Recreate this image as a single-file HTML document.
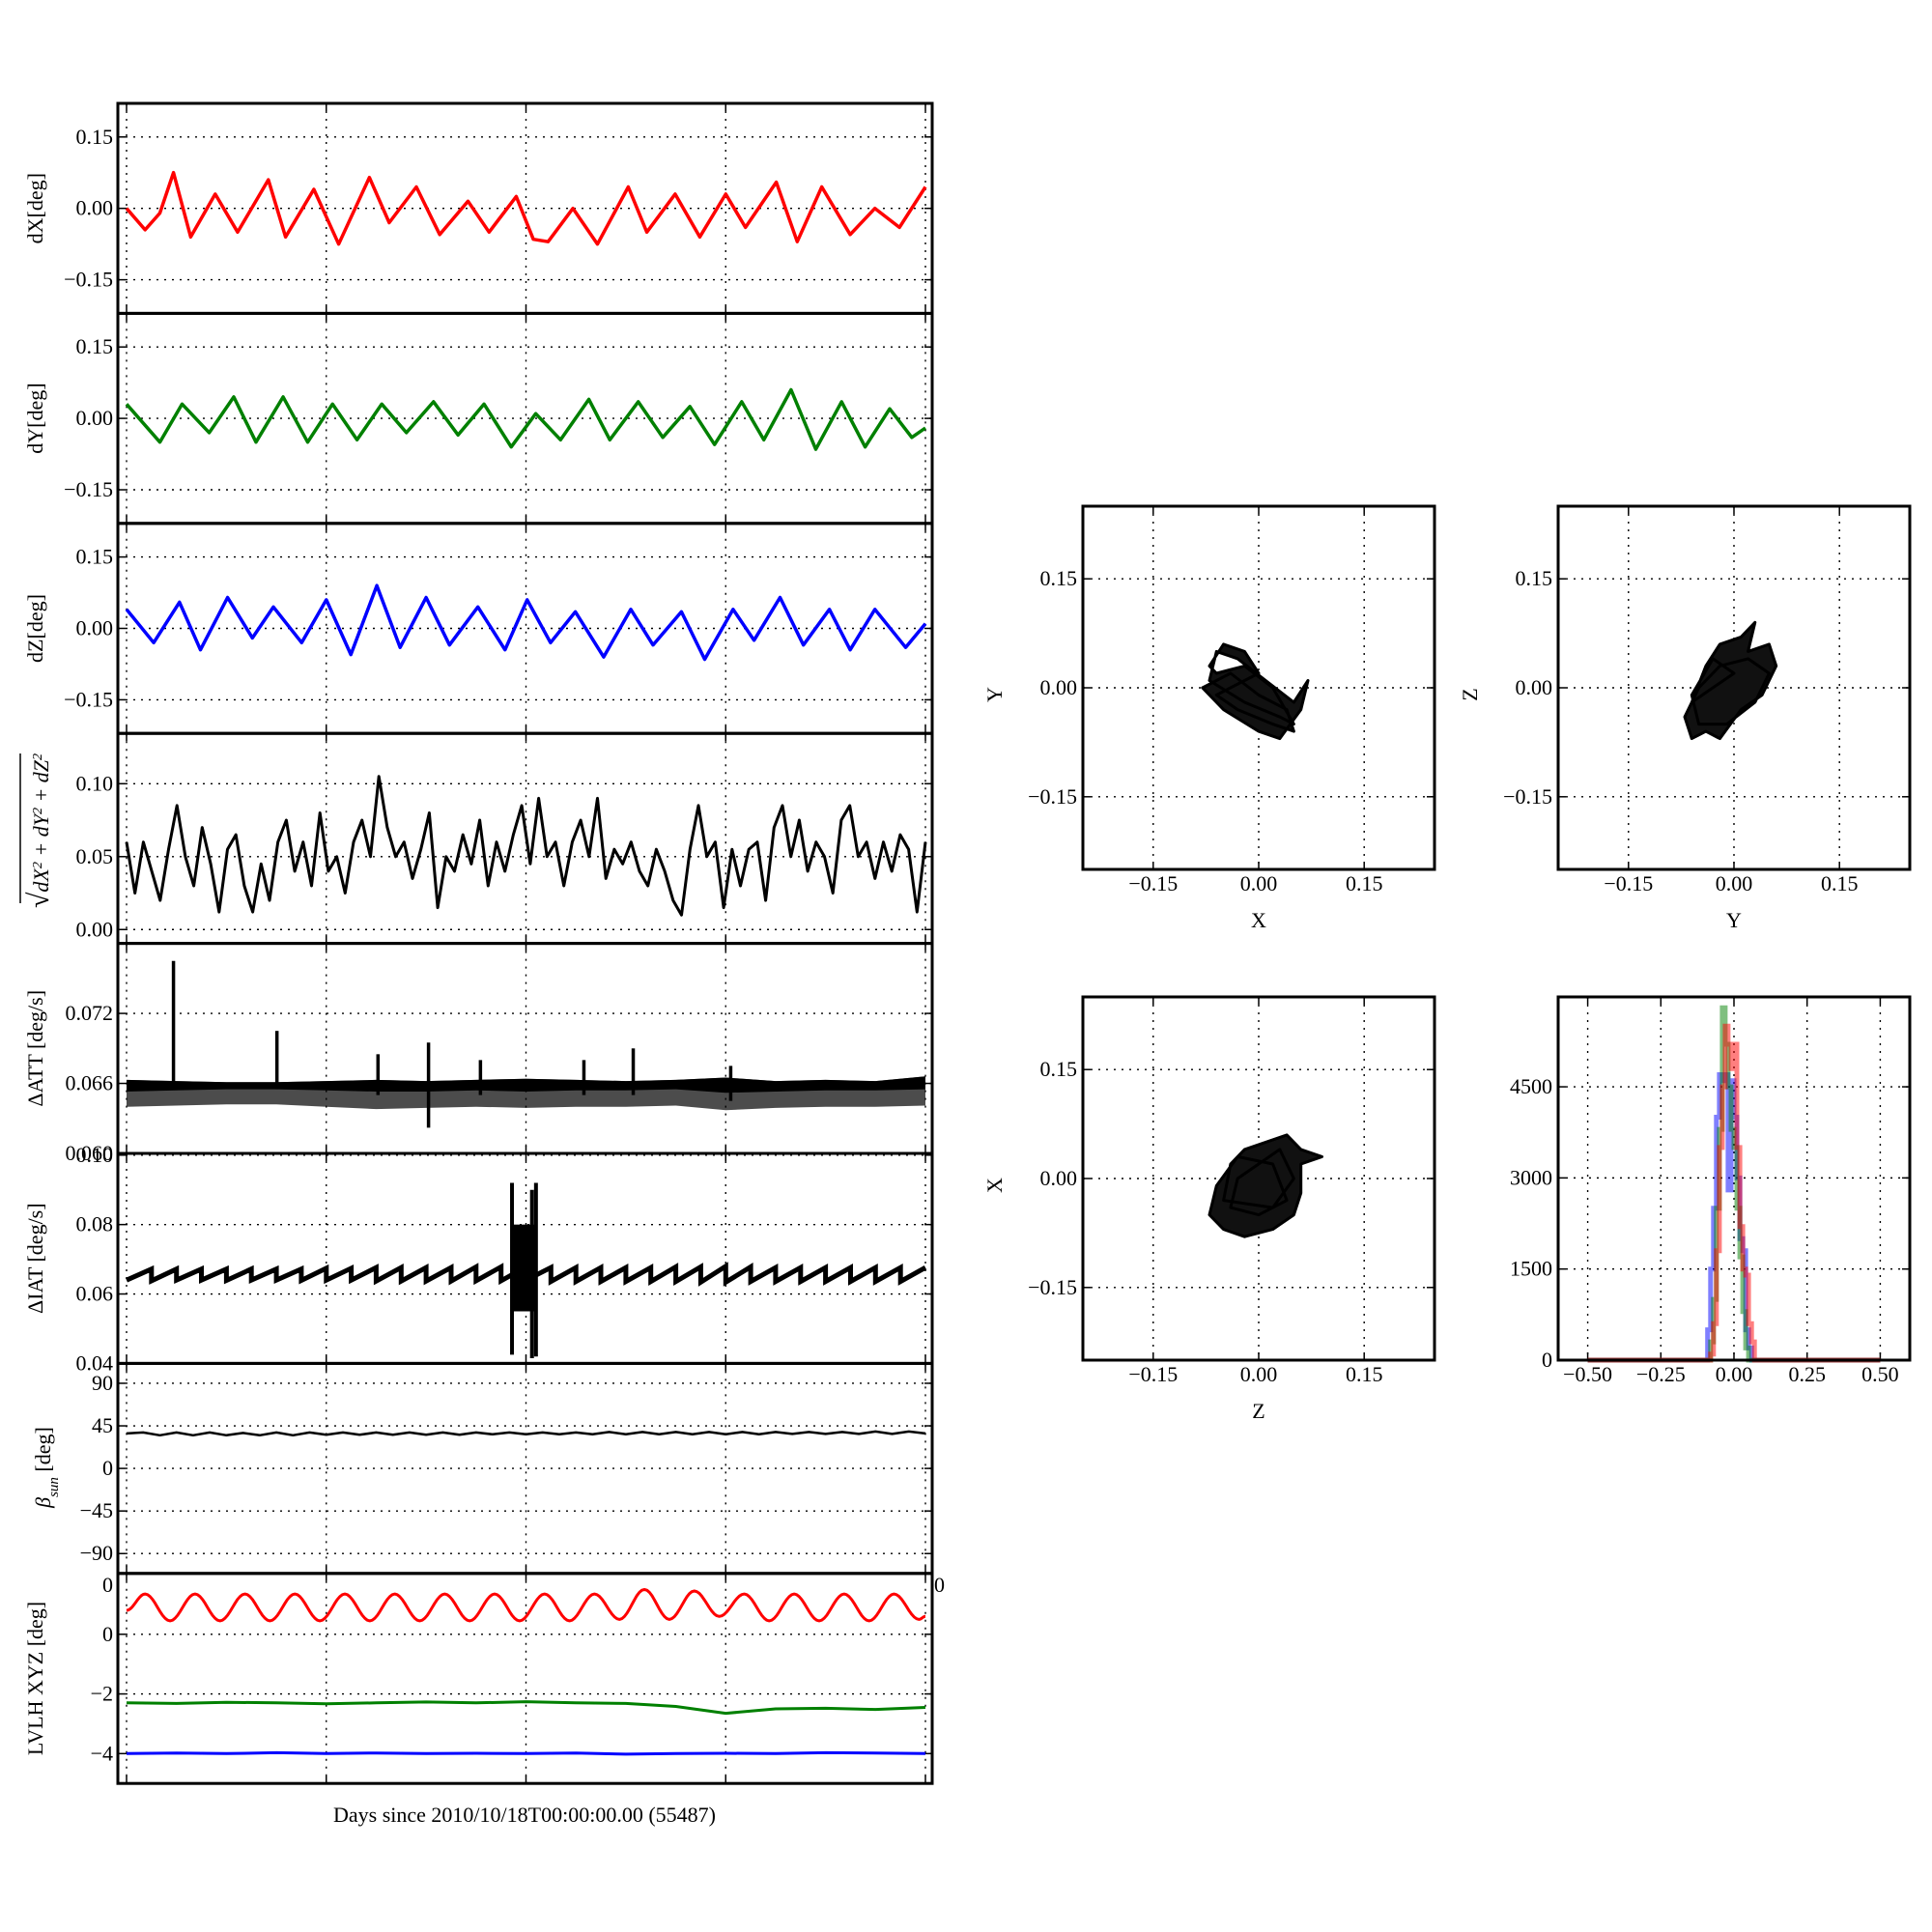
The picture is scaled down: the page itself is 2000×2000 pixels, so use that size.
<!DOCTYPE html>
<html><head><meta charset="utf-8"><style>
html,body{margin:0;padding:0;background:#fff}
svg{display:block}
svg text{font-family:"Liberation Serif","DejaVu Serif",serif;fill:#000}
</style></head><body>
<svg id="fig" width="2000" height="2000" viewBox="0 0 2000 2000" font-family="'Liberation Serif', 'DejaVu Serif', serif" xmlns="http://www.w3.org/2000/svg"></svg>
<script>
// ---- data (days since start) ----
const dxT=[0,.093,.167,.235,.321,.444,.556,.710,.796,.938,1.062,1.216,1.315,1.451,1.568,1.710,1.815,1.951,2.037,2.111,2.235,2.358,2.512,2.605,2.747,2.870,3.0,3.099,3.253,3.358,3.481,3.623,3.747,3.870,4.0];
const dxV=[0,-0.045,-0.01,0.075,-0.06,0.03,-0.05,0.06,-0.06,0.04,-0.075,0.065,-0.03,0.045,-0.055,0.015,-0.05,0.025,-0.065,-0.07,0.0,-0.075,0.045,-0.05,0.03,-0.06,0.03,-0.04,0.055,-0.07,0.045,-0.055,0.0,-0.04,0.045];
const dyT=[0,.167,.278,.414,.537,.648,.784,.907,1.031,1.154,1.278,1.401,1.537,1.660,1.790,1.926,2.049,2.173,2.315,2.420,2.562,2.685,2.821,2.944,3.080,3.191,3.327,3.451,3.580,3.698,3.821,3.932,4.0];
const dyV=[0.03,-0.05,0.03,-0.03,0.045,-0.05,0.045,-0.05,0.03,-0.045,0.03,-0.03,0.035,-0.035,0.03,-0.06,0.01,-0.045,0.04,-0.045,0.035,-0.04,0.025,-0.055,0.035,-0.045,0.06,-0.065,0.035,-0.06,0.02,-0.04,-0.02];
const dzT=[0,.136,.265,.370,.506,.630,.735,.877,1.0,1.123,1.253,1.370,1.5,1.617,1.759,1.895,2.006,2.123,2.247,2.389,2.525,2.636,2.778,2.895,3.037,3.142,3.272,3.389,3.519,3.623,3.747,3.901,4.0];
const dzV=[0.04,-0.03,0.055,-0.045,0.065,-0.02,0.045,-0.03,0.06,-0.055,0.09,-0.04,0.065,-0.035,0.045,-0.045,0.06,-0.03,0.035,-0.06,0.04,-0.035,0.035,-0.065,0.04,-0.025,0.065,-0.035,0.04,-0.045,0.04,-0.04,0.01];
const normV=[0.06,0.025,0.06,0.04,0.02,0.055,0.085,0.05,0.03,0.07,0.045,0.012,0.055,0.065,0.03,0.012,0.045,0.02,0.06,0.075,0.04,0.06,0.03,0.08,0.04,0.05,0.025,0.06,0.075,0.05,0.105,0.07,0.05,0.06,0.035,0.055,0.08,0.015,0.05,0.04,0.065,0.045,0.075,0.03,0.06,0.04,0.065,0.085,0.045,0.09,0.05,0.06,0.03,0.06,0.075,0.05,0.09,0.035,0.055,0.045,0.06,0.04,0.03,0.055,0.04,0.02,0.01,0.055,0.085,0.05,0.06,0.015,0.055,0.03,0.055,0.06,0.02,0.07,0.085,0.05,0.075,0.04,0.06,0.05,0.025,0.075,0.085,0.05,0.06,0.035,0.06,0.04,0.065,0.055,0.012,0.06];
const attUp=[0.0663,0.0662,0.0661,0.0661,0.0662,0.0663,0.0662,0.0663,0.0664,0.0663,0.0662,0.0663,0.0665,0.0662,0.0663,0.0662,0.0666];
const attMid=[0.0653,0.0654,0.0655,0.0655,0.0654,0.0653,0.0653,0.0654,0.0653,0.0654,0.0654,0.0655,0.0652,0.0653,0.0654,0.0654,0.0655];
const attLo=[0.0640,0.0641,0.0642,0.0642,0.0640,0.0638,0.0639,0.0640,0.0639,0.0640,0.0640,0.0641,0.0637,0.0639,0.0640,0.0640,0.0641];
const attSpikeT=[0.235,0.753,1.259,1.512,1.772,2.290,2.537,3.025];
const attSpikeHi=[0.0765,0.0705,0.0685,0.0695,0.0680,0.0680,0.0690,0.0675];
const attSpikeLo=[0.0655,0.0655,0.0650,0.0622,0.0650,0.0650,0.0650,0.0645];
const toothT=[0,0.125,0.25,0.375,0.5,0.625,0.75,0.875,1.0,1.125,1.25,1.375,1.5,1.625,1.75,1.875,2.0,2.125,2.25,2.375,2.5,2.625,2.75,2.875,3.0,3.125,3.25,3.375,3.5,3.625,3.75,3.875];
const toothLo=[0.0640,0.0638,0.0640,0.0640,0.0639,0.0640,0.0640,0.0639,0.0640,0.0640,0.0637,0.0637,0.0637,0.0637,0.0638,0.0638,0.0640,0.0636,0.0636,0.0636,0.0636,0.0636,0.0636,0.0634,0.0634,0.0636,0.0636,0.0636,0.0636,0.0636,0.0636,0.0636];
const toothHi=[0.0672,0.0672,0.0672,0.0672,0.0672,0.0672,0.0672,0.0674,0.0674,0.0676,0.0676,0.0676,0.0676,0.0678,0.0678,0.0678,0.0676,0.0676,0.0676,0.0676,0.0676,0.0678,0.0678,0.0680,0.0678,0.0676,0.0676,0.0676,0.0676,0.0676,0.0676,0.0676];
const burstT=[1.93,2.05];
const burstLo=[0.055,0.055];
const burstHi=[0.077,0.080];
const iatSpikeT=[1.93,2.03,2.05];
const iatSpikeLo=[0.0425,0.0415,0.042];
const iatSpikeHi=[0.092,0.090,0.092];
const betaV=[37,38,35,38,35,38,35,37.5,35,38,35,38,35.5,38,35.5,38,35.5,38,35.5,38,35.5,38,36,38,36,38,36,38,36,38.5,36,38.5,36,38.5,36,38.5,36,38.5,36,38.5,36.5,38.5,36.5,38.5,36.5,39,36.5,39,37];
const redT=[0,0.093,0.218,0.343,0.468,0.593,0.718,0.843,0.968,1.093,1.218,1.343,1.468,1.593,1.718,1.843,1.968,2.093,2.218,2.343,2.468,2.593,2.718,2.843,2.968,3.093,3.218,3.343,3.468,3.593,3.718,3.843,3.968,4.0];
const redV=[0.8,1.35,0.45,1.35,0.45,1.35,0.45,1.35,0.45,1.35,0.45,1.35,0.45,1.35,0.45,1.35,0.45,1.35,0.45,1.35,0.5,1.5,0.5,1.45,0.6,1.35,0.45,1.35,0.45,1.35,0.45,1.35,0.5,0.6];
const greenV=[-2.3,-2.32,-2.28,-2.3,-2.33,-2.3,-2.27,-2.3,-2.26,-2.3,-2.32,-2.42,-2.65,-2.5,-2.48,-2.52,-2.45];
const blueV=[-4.0,-3.98,-4.0,-3.97,-4.0,-3.98,-4.0,-3.99,-4.0,-3.98,-4.02,-4.0,-3.99,-4.0,-3.97,-3.98,-4.0];
const cloudXY=[[-0.07,0.03],[-0.05,0.06],[-0.02,0.05],[0.0,0.02],[-0.06,-0.01],[-0.03,-0.03],[0.02,-0.05],[0.05,-0.06],[0.04,-0.03],[0.0,-0.01],[-0.04,0.02],[-0.08,0.0],[-0.05,-0.03],[0.0,-0.06],[0.03,-0.07],[0.06,-0.03],[0.07,0.01],[0.05,-0.02],[0.01,0.01],[-0.03,0.04],[-0.06,0.05],[-0.07,0.01],[-0.02,-0.02],[0.03,-0.04],[0.05,-0.05],[0.02,0.0],[-0.02,0.03],[-0.06,0.02]];
const cloudYZ=[[-0.06,-0.02],[-0.04,0.03],[-0.02,0.06],[0.01,0.07],[0.03,0.09],[0.02,0.05],[0.05,0.06],[0.06,0.03],[0.04,-0.01],[0.01,-0.03],[-0.02,-0.07],[-0.04,-0.06],[-0.06,-0.07],[-0.07,-0.04],[-0.05,0.0],[-0.02,0.03],[0.02,0.04],[0.05,0.02],[0.03,-0.02],[-0.01,-0.05],[-0.05,-0.05],[-0.06,-0.01],[-0.03,0.04],[0.0,0.02]];
const cloudZX=[[-0.05,-0.03],[-0.04,0.02],[-0.02,0.04],[0.01,0.05],[0.04,0.06],[0.06,0.04],[0.09,0.03],[0.06,0.02],[0.06,-0.02],[0.05,-0.05],[0.02,-0.07],[-0.02,-0.08],[-0.05,-0.07],[-0.07,-0.05],[-0.06,-0.01],[-0.03,0.03],[0.02,0.02],[0.04,-0.03],[0.0,-0.05],[-0.04,-0.04],[-0.03,0.0],[0.03,0.04],[0.05,0.0],[0.02,-0.04]];
const histEdges=[-0.1,-0.09,-0.08,-0.07,-0.06,-0.05,-0.04,-0.03,-0.02,-0.01,0,0.01,0.02,0.03,0.04,0.05,0.06,0.07,0.08,0.09,0.1];
const histBlue=[0,500,1500,2500,4000,4700,4600,4700,2800,4600,4000,3000,2000,1800,500,200,0,0,0,0];
const histGreen=[0,0,300,1000,2500,3800,5800,5200,4500,3800,3500,2500,1700,800,200,0,0,0,0,0];
const histRed=[0,0,100,600,1800,3500,4500,5500,5200,4800,5200,3500,2200,1500,1400,600,300,0,0,0];

// ---- drawing ----
const NS='http://www.w3.org/2000/svg';
const svg=document.getElementById('fig');
const FF="'Liberation Serif', 'DejaVu Serif', serif";
function el(tag,attrs,parent,txt){const e=document.createElementNS(NS,tag);for(const k in attrs)e.setAttribute(k,attrs[k]);if(tag==='text')e.setAttribute('font-family',FF);if(txt!==undefined)e.textContent=txt;(parent||svg).appendChild(e);return e;}
function lin(d0,d1,r0,r1){return v=>r0+(v-d0)/(d1-d0)*(r1-r0);}
function pathFrom(xs,ys){let s='';for(let i=0;i<xs.length;i++)s+=(i?'L':'M')+xs[i].toFixed(1)+','+ys[i].toFixed(1);return s;}
const GRID={stroke:'#000','stroke-width':1.4,'stroke-dasharray':'2,6'};

function axesBox(g,x0,y0,x1,y1,xs,ys,xt,yt,opts){
  const gg=el('g',{},g);
  
  
  xt.forEach(v=>{const x=xs(v);el('line',Object.assign({x1:x,x2:x,y1:y0,y2:y1},GRID),gg);el('line',{x1:x,x2:x,y1:y1,y2:y1-8,stroke:'#000','stroke-width':1.5},gg);el('line',{x1:x,x2:x,y1:y0,y2:y0+8,stroke:'#000','stroke-width':1.5},gg);});
  yt.forEach(v=>{const y=ys(v);if(y<y0+1||y>y1-1)return;el('line',Object.assign({x1:x0,x2:x1,y1:y,y2:y},GRID),gg);el('line',{x1:x0,x2:x0+8,y1:y,y2:y,stroke:'#000','stroke-width':1.5},gg);el('line',{x1:x1,x2:x1-8,y1:y,y2:y,stroke:'#000','stroke-width':1.5},gg);});
}
function frame(g,x0,y0,x1,y1,name){const r=el('rect',{x:x0,y:y0,width:x1-x0,height:y1-y0,fill:'none',stroke:'#000','stroke-width':3},g);}
function ytickLabels(g,xr,ys,vals,labs,name){vals.forEach((v,i)=>{const t=el('text',{x:xr,y:ys(v)+7,'font-size':22,'text-anchor':'end'},g,labs[i]);});}
function ylabel(g,x,y,txt,name,size){const t=el('text',{x:x,y:y,'font-size':size||22,'text-anchor':'middle',transform:'rotate(-90 '+x+' '+y+')'},g,txt);return t;}

// left stack
const LX0=122,LX1=965,LTOP=107,PH=217.4;
const sxT=lin(0,4,131,958);
const dayTicks=[0,1,2,3,4];
const panels=[
 {name:'dx-panel',dom:[-0.2206,0.2206],ticks:[-0.15,0,0.15],labs:['\u22120.15','0.00','0.15'],lab:'dX[deg]'},
 {name:'dy-panel',dom:[-0.2206,0.2206],ticks:[-0.15,0,0.15],labs:['\u22120.15','0.00','0.15'],lab:'dY[deg]'},
 {name:'dz-panel',dom:[-0.2206,0.2206],ticks:[-0.15,0,0.15],labs:['\u22120.15','0.00','0.15'],lab:'dZ[deg]'},
 {name:'norm-panel',dom:[-0.0095,0.1345],ticks:[0,0.05,0.10],labs:['0.00','0.05','0.10'],lab:''},
 {name:'att-panel',dom:[0.060,0.078],ticks:[0.060,0.066,0.072],labs:['0.060','0.066','0.072'],lab:'\u0394ATT [deg/s]'},
 {name:'iat-panel',dom:[0.04,0.1005],ticks:[0.04,0.06,0.08,0.10],labs:['0.04','0.06','0.08','0.10'],lab:'\u0394IAT [deg/s]'},
 {name:'beta-panel',dom:[-111,111],ticks:[-90,-45,0,45,90],labs:['\u221290','\u221245','0','45','90'],lab:''},
 {name:'lvlh-panel',dom:[-5.0,2.04],ticks:[-4,-2,0],labs:['\u22124','\u22122','0'],lab:'LVLH XYZ [deg]'}
];
const S=[];
panels.forEach((p,i)=>{
  const g=el('g',{});
  
  
  const y0=LTOP+i*PH,y1=y0+PH;
  const sy=lin(p.dom[0],p.dom[1],y1,y0);
  axesBox(g,LX0,y0,LX1,y1,sxT,sy,dayTicks,p.ticks,p);
  const lg=el('g',{},g);
  ytickLabels(lg,117,sy,p.ticks,p.labs,p.name);
  if(p.lab)ylabel(g,44,(y0+y1)/2,p.lab,p.name+'-ylabel');
  S.push({g,y0,y1,sy});
});
function series(idx,xs,ys,color,name,w){const P=S[idx];const p=el('path',{d:pathFrom(xs.map(sxT),ys.map(P.sy)),fill:'none',stroke:color,'stroke-width':w||3.5,'stroke-linejoin':'round'},P.g);return p;}
function uniformT(n){const a=[];for(let i=0;i<n;i++)a.push(4*i/(n-1));return a;}
series(0,dxT,dxV,'#ff0000','dx-line');
series(1,dyT,dyV,'#008000','dy-line');
series(2,dzT,dzV,'#0000ff','dz-line');
series(3,uniformT(normV.length),normV,'#000','norm-line',3);
// ATT band
(function(){const P=S[4];const t=uniformT(attUp.length);
 const up=t.map((v,i)=>sxT(v).toFixed(1)+','+P.sy(attUp[i]).toFixed(1));
 const mid=t.map((v,i)=>sxT(v).toFixed(1)+','+P.sy(attMid[i]).toFixed(1)).reverse();
 const lo=t.map((v,i)=>sxT(v).toFixed(1)+','+P.sy(attLo[i]).toFixed(1)).reverse();
 const b1=el('polygon',{points:up.concat(mid).join(' '),fill:'#000'},P.g);
 
 
 const b2=el('polygon',{points:up.concat(lo).join(' '),fill:'#000','fill-opacity':0.7},P.g);
 
 
 attSpikeT.forEach((tt,i)=>{const l=el('line',{x1:sxT(tt),x2:sxT(tt),y1:P.sy(attSpikeHi[i]),y2:P.sy(attSpikeLo[i]),stroke:'#000','stroke-width':3.5},P.g);
 
 });
})();
// IAT sawtooth
(function(){const P=S[5];let d='';
 toothT.forEach((t,i)=>{const te=(i+1<toothT.length?toothT[i+1]:4.0);
  d+=(i?'L':'M')+sxT(t).toFixed(1)+','+P.sy(toothLo[i]).toFixed(1)+'L'+sxT(te).toFixed(1)+','+P.sy(toothHi[i]).toFixed(1);});
 const p=el('path',{d:d,fill:'none',stroke:'#000','stroke-width':5,'stroke-linejoin':'miter'},P.g);
 
 
 const r=el('rect',{x:sxT(burstT[0]),y:P.sy(burstHi[1]),width:sxT(burstT[1])-sxT(burstT[0]),height:P.sy(burstLo[0])-P.sy(burstHi[1]),fill:'#000'},P.g);
 
 
 iatSpikeT.forEach((t,i)=>{const l=el('line',{x1:sxT(t),x2:sxT(t),y1:P.sy(iatSpikeHi[i]),y2:P.sy(iatSpikeLo[i]),stroke:'#000','stroke-width':4},P.g);
 
 });
})();
series(6,uniformT(betaV.length),betaV,'#000','beta-line',2.5);
// LVLH red with cosine interpolation between extremes
(function(){const xs=[],ys=[];
 for(let i=0;i<redT.length-1;i++){for(let k=0;k<10;k++){const f=k/10,c=(1-Math.cos(Math.PI*f))/2;xs.push(redT[i]+(redT[i+1]-redT[i])*f);ys.push(redV[i]+(redV[i+1]-redV[i])*c);}}
 xs.push(redT[redT.length-1]);ys.push(redV[redV.length-1]);
 series(7,xs,ys,'#ff0000','lvlh-x-line',3);
})();
series(7,uniformT(greenV.length),greenV,'#008000','lvlh-y-line',3);
series(7,uniformT(blueV.length),blueV,'#0000ff','lvlh-z-line',3);
panels.forEach((p,i)=>frame(S[i].g,LX0,S[i].y0,LX1,S[i].y1,p.name));
(function(){const t=el('text',{x:117,y:1648,'font-size':22,'text-anchor':'end'},S[7].g,'0');
 const t2=el('text',{x:967,y:1648,'font-size':22},svg,'0');
 const y=el('text',{x:50,y:860,'font-size':22,'font-style':'italic','text-anchor':'middle',transform:'rotate(-90 50 860)'},S[3].g);
 
 el('tspan',{'font-style':'normal','font-size':30},y,'\u221A');el('tspan',{},y,'dX');el('tspan',{'baseline-shift':'super','font-size':14},y,'2');el('tspan',{},y,' + dY');el('tspan',{'baseline-shift':'super','font-size':14},y,'2');el('tspan',{},y,' + dZ');el('tspan',{'baseline-shift':'super','font-size':14},y,'2');
 const ol=el('line',{x1:21,x2:21,y1:780,y2:935,stroke:'#000','stroke-width':1.5},S[3].g);
 const b=el('text',{x:52,y:1519,'font-size':22,'text-anchor':'middle',transform:'rotate(-90 52 1519)'},S[6].g);
 
 el('tspan',{'font-style':'italic'},b,'\u03B2');el('tspan',{'font-style':'italic','font-size':15,'baseline-shift':'sub'},b,'sun');el('tspan',{},b,' [deg]');
 const xl=el('text',{x:543,y:1886,'font-size':22,'text-anchor':'middle'},svg,'Days since 2010/10/18T00:00:00.00 (55487)');
 
})();

// scatter panels
function scatter(x0,y0,name,pts,xlab,ylab){
  const g=el('g',{});
  
  
  const x1=x0+364,y1=y0+376;
  const sx=lin(-0.25,0.25,x0,x1),sy=lin(-0.25,0.25,y1,y0);
  const tk=[-0.15,0,0.15],lb=['\u22120.15','0.00','0.15'];
  axesBox(g,x0,y0,x1,y1,sx,sy,tk,tk,{name});
  const pp=pts.map(p=>sx(p[0]).toFixed(1)+','+sy(p[1]).toFixed(1)).join(' ');
  const c=el('polygon',{points:pp,fill:'#111',stroke:'#000','stroke-width':3,'stroke-linejoin':'round'},g);
  
  
  ytickLabels(g,x0-6,sy,tk,lb,name);
  tk.forEach((v,i)=>{const t=el('text',{x:sx(v),y:y1+22,'font-size':22,'text-anchor':'middle'},g,lb[i]);});
  const xt=el('text',{x:(x0+x1)/2,y:y1+60,'font-size':22,'text-anchor':'middle'},g,xlab);
  ylabel(g,x0-84,(y0+y1)/2+7,ylab,name+'-ylabel');
  frame(g,x0,y0,x1,y1,name);
}
scatter(1121,524,'xy-scatter',cloudXY,'X','Y');
scatter(1613,524,'yz-scatter',cloudYZ,'Y','Z');
scatter(1121,1032,'zx-scatter',cloudZX,'Z','X');

// histogram
(function(){const g=el('g',{});
 
 
 const x0=1613,y0=1032,x1=1977,y1=1408;
 const sx=lin(-0.601,0.601,x0,x1),sy=lin(0,5980,y1,y0);
 const xt=[-0.5,-0.25,0,0.25,0.5],xl=['\u22120.50','\u22120.25','0.00','0.25','0.50'];
 const yt=[0,1500,3000,4500],yl=['0','1500','3000','4500'];
 axesBox(g,x0,y0,x1,y1,sx,sy,xt,yt,{name:'histogram'});
 function step(counts,color,name){let d='M'+sx(-0.5)+','+sy(0)+'L'+sx(histEdges[0])+','+sy(0);
  counts.forEach((c,i)=>{d+='L'+sx(histEdges[i]).toFixed(1)+','+sy(c).toFixed(1)+'L'+sx(histEdges[i+1]).toFixed(1)+','+sy(c).toFixed(1);});
  d+='L'+sx(histEdges[histEdges.length-1])+','+sy(0)+'L'+sx(0.5)+','+sy(0);
  const p=el('path',{d:d,fill:'none',stroke:color,'stroke-width':5,'stroke-opacity':0.5},g);
  }
 step(histBlue,'#0000ff','hist-z');step(histGreen,'#008000','hist-y');step(histRed,'#ff0000','hist-x');
 ytickLabels(g,x0-6,sy,yt,yl,'histogram');
 xt.forEach((v,i)=>{const t=el('text',{x:sx(v),y:y1+22,'font-size':22,'text-anchor':'middle'},g,xl[i]);});
 frame(g,x0,y0,x1,y1,'histogram');
})();
</script>
</body></html>
